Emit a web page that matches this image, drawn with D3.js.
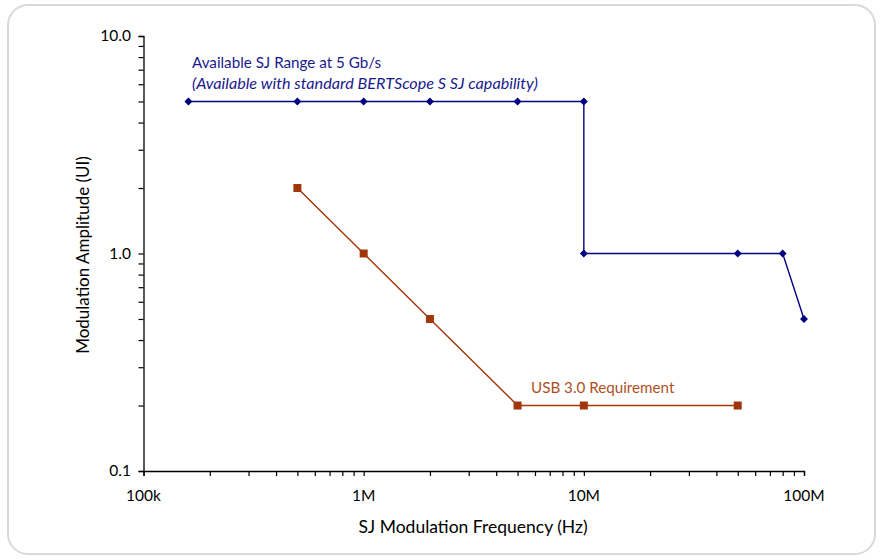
<!DOCTYPE html>
<html>
<head>
<meta charset="utf-8">
<script src="https://cdn.jsdelivr.net/npm/d3@7"></script>
<style>
  body { margin: 0; background: #fff; }
  svg text { font-family: Lato, "Open Sans", sans-serif; }
</style>
</head>
<body>
<div id="chart"></div>
<script>
// data
const sjFreq = [160e3, 500e3, 1e6, 2e6, 5e6, 10e6, 10e6, 50e6, 80e6, 100e6];
const sjAmp  = [5, 5, 5, 5, 5, 5, 1, 1, 1, 0.5];

const usbFreq = [500e3, 1e6, 2e6, 5e6, 10e6, 50e6];
const usbAmp  = [2, 1, 0.5, 0.2, 0.2, 0.2];

const xTicks = [1e5, 1e6, 1e7, 1e8];
const xTickLabels = ["100k", "1M", "10M", "100M"];
const yTicks = [0.1, 1, 10];
const yTickLabels = ["0.1", "1.0", "10.0"];

const width = 880, height = 560;
const plotLeft = 143.5, plotRight = 804, plotTop = 36, plotBottom = 471;

const svg = d3.select("#chart").append("svg")
    .attr("width", width)
    .attr("height", height);

// card border
svg.append("rect")
    .attr("x", 8).attr("y", 5)
    .attr("width", 867).attr("height", 549)
    .attr("rx", 20)
    .style("fill", "#fff")
    .style("stroke", "#d9d9d9")
    .style("stroke-width", 2);

const x = d3.scaleLog().domain([1e5, 1e8]).range([plotLeft, plotRight]);
const y = d3.scaleLog().domain([0.1, 10]).range([plotBottom, plotTop]);

// minor ticks
const minorX = [];
[1e5, 1e6, 1e7].forEach(d => { for (let k = 2; k <= 9; k++) minorX.push(d * k); });
const minorY = [];
[0.1, 1].forEach(d => { for (let k = 2; k <= 9; k++) minorY.push(d * k); });

const xAxis = svg.append("g")
    .attr("transform", `translate(0,${plotBottom})`)
    .call(d3.axisBottom(x).tickValues(xTicks.concat(minorX)).tickFormat("").tickSizeOuter(0).tickSize(5));
const yAxis = svg.append("g")
    .attr("transform", `translate(${plotLeft},0)`)
    .call(d3.axisLeft(y).tickValues(yTicks.concat(minorY)).tickFormat("").tickSizeOuter(0).tickSize(5));

[xAxis, yAxis].forEach(a => {
    a.select(".domain").style("stroke", "#000").style("stroke-width", 1.3);
    a.selectAll(".tick line").style("stroke", "#000").style("stroke-width", 1.2);
});

// tick labels
svg.selectAll(".xlab")
    .data(xTicks)
    .enter().append("text")
    .attr("x", d => x(d))
    .attr("y", 501)
    .attr("text-anchor", "middle")
    .style("font-size", "15.5px")
    .text((d, i) => xTickLabels[i]);

svg.selectAll(".ylab")
    .data(yTicks)
    .enter().append("text")
    .attr("x", 131)
    .attr("y", d => y(d) + 5)
    .attr("text-anchor", "end")
    .style("font-size", "15.5px")
    .text((d, i) => yTickLabels[i]);

// axis titles
svg.append("text")
    .attr("x", 473)
    .attr("y", 533)
    .attr("text-anchor", "middle")
    .style("font-size", "17.5px")
    .text("SJ Modulation Frequency (Hz)");

svg.append("text")
    .attr("transform", `translate(89,255) rotate(-90)`)
    .attr("text-anchor", "middle")
    .style("font-size", "17px")
    .text("Modulation Amplitude (UI)");

const line = d3.line().x(d => x(d[0])).y(d => y(d[1]));

// SJ range series
const sjData = sjFreq.map((f, i) => [f, sjAmp[i]]);
svg.append("path")
    .datum(sjData)
    .attr("d", line)
    .style("fill", "none")
    .style("stroke", "#000080")
    .style("stroke-width", 1.4);
svg.selectAll(".sj")
    .data(sjData)
    .enter().append("path")
    .attr("d", d3.symbol(d3.symbolDiamond2, 40))
    .attr("transform", d => `translate(${x(d[0])},${y(d[1])})`)
    .style("fill", "#000080");

// USB requirement series
const usbData = usbFreq.map((f, i) => [f, usbAmp[i]]);
svg.append("path")
    .datum(usbData)
    .attr("d", line)
    .style("fill", "none")
    .style("stroke", "#a0360a")
    .style("stroke-width", 1.4);
svg.selectAll(".usb")
    .data(usbData)
    .enter().append("rect")
    .attr("x", d => x(d[0]) - 4)
    .attr("y", d => y(d[1]) - 4)
    .attr("width", 8)
    .attr("height", 8)
    .style("fill", "#a0360a");

// annotations
svg.append("text")
    .attr("x", 192).attr("y", 68)
    .style("font-size", "15.2px")
    .style("fill", "#1a1a8c")
    .text("Available SJ Range at 5 Gb/s");
svg.append("text")
    .attr("x", 192).attr("y", 89)
    .style("font-size", "16.2px")
    .style("font-style", "italic")
    .style("fill", "#1a1a8c")
    .text("(Available with standard BERTScope S SJ capability)");
svg.append("text")
    .attr("x", 531).attr("y", 393)
    .style("font-size", "15.2px")
    .style("fill", "#b0501f")
    .text("USB 3.0 Requirement");
</script>
</body>
</html>
